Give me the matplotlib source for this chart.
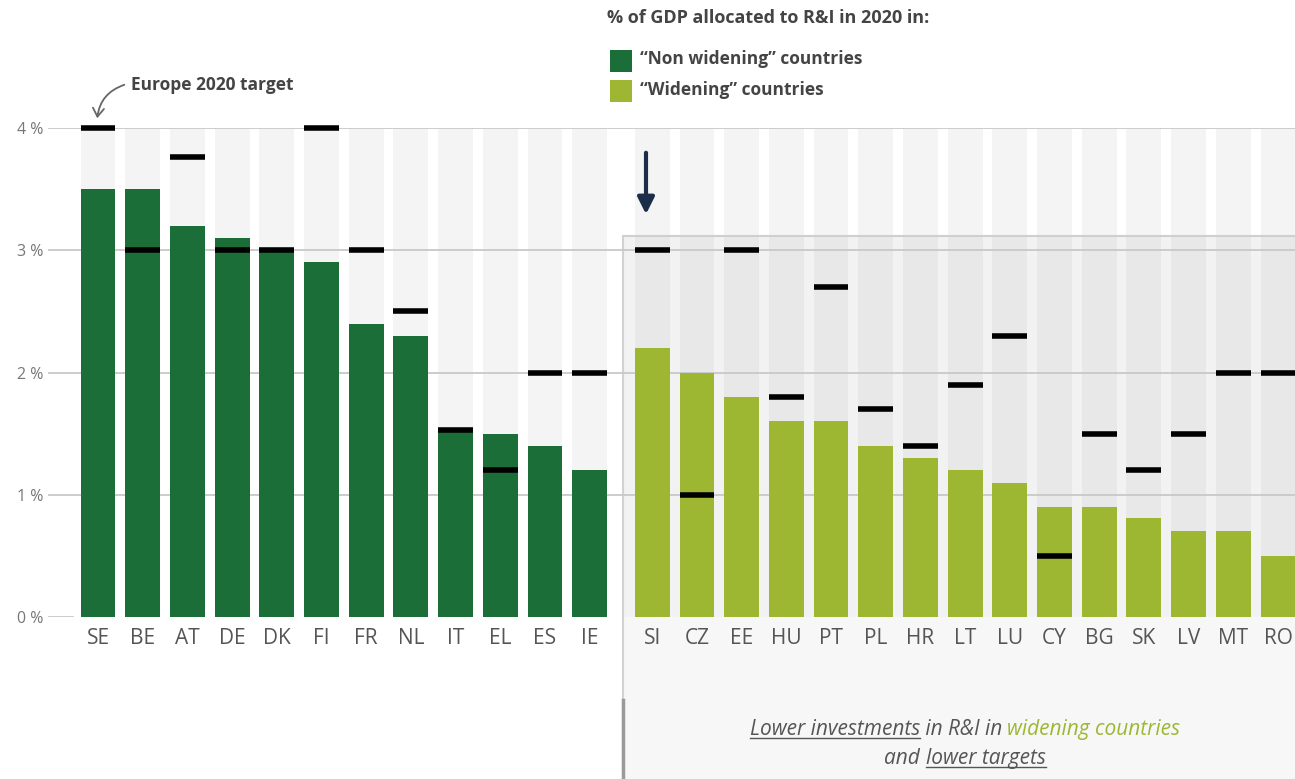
import matplotlib
matplotlib.use("Agg")
import matplotlib.pyplot as plt
from matplotlib.patches import Rectangle, FancyArrowPatch
from matplotlib import font_manager as fm
import numpy as np

# ---------------- data ----------------
nonwid_countries = ["SE", "BE", "AT", "DE", "DK", "FI", "FR", "NL", "IT", "EL", "ES", "IE"]
nonwid_values = [3.5, 3.5, 3.2, 3.1, 3.0, 2.9, 2.4, 2.3, 1.55, 1.5, 1.4, 1.2]
nonwid_targets = [4.0, 3.0, 3.76, 3.0, 3.0, 4.0, 3.0, 2.5, 1.53, 1.2, 2.0, 2.0]

wid_countries = ["SI", "CZ", "EE", "HU", "PT", "PL", "HR", "LT", "LU", "CY", "BG", "SK", "LV", "MT", "RO"]
wid_values = [2.2, 2.0, 1.8, 1.6, 1.6, 1.4, 1.3, 1.2, 1.1, 0.9, 0.9, 0.81, 0.7, 0.7, 0.5]
wid_targets = [3.0, 1.0, 3.0, 1.8, 2.7, 1.7, 1.4, 1.9, 2.3, 0.5, 1.5, 1.2, 1.5, 2.0, 2.0]

yticks = [0, 1, 2, 3, 4]
ytick_labels = ["0 %", "1 %", "2 %", "3 %", "4 %"]

# ---------------- fonts ----------------
avail = {f.name for f in fm.fontManager.ttflist}
def pick(*names):
    for n in names:
        if n in avail:
            return n
    return "DejaVu Sans"
NARROW = pick("Liberation Sans Narrow", "Open Sans", "Lato", "DejaVu Sans")
BOLD = pick("Open Sans", "Lato", "DejaVu Sans")

DARK = "#1b6e37"
LIGHT = "#9db733"
GREY_TXT = "#555555"

W, H = 1295, 779
fig = plt.figure(figsize=(W / 100, H / 100), dpi=100)

ax_left, ax_right = 48, W
ax_bottom_px, ax_top_px = 617, 128
ax = fig.add_axes([ax_left / W, 1 - ax_bottom_px / H,
                   (ax_right - ax_left) / W, (ax_bottom_px - ax_top_px) / H])

n1 = len(nonwid_countries)
x1 = np.arange(n1)
x2 = np.arange(len(wid_countries)) + n1 + 0.4
xall = np.concatenate([x1, x2])
bw = 0.78

ax.set_xlim(-1.12, 26.78)
ax.set_ylim(0, 4)

# background stripes
ax.bar(xall, [4] * len(xall), width=bw, color="#f4f4f4", zorder=0)

# grey box behind widening countries
box_left = x2[0] - 0.65
box_top = 3.12
ax.add_patch(Rectangle((box_left, 0), 40, box_top, transform=ax.transData,
                       facecolor=(0.45, 0.45, 0.5), alpha=0.09, edgecolor="none",
                       clip_on=False, zorder=0.5))
ax.add_patch(Rectangle((box_left, -1.5), 40, 1.5, transform=ax.transData,
                       facecolor="#f7f7f8", edgecolor="none",
                       clip_on=False, zorder=0.5))
ax.plot([box_left, 40], [box_top, box_top], color="#cfcfcf", lw=1.5, clip_on=False, zorder=0.6)
ax.plot([box_left, box_left], [-1.5, box_top], color="#d2d2d2", lw=1.5, clip_on=False, zorder=0.6)
ax.plot([box_left, box_left], [-1.5, -0.68], color="#9a9a9a", lw=2.5, clip_on=False, zorder=0.6)

# gridlines
for yv in yticks[1:]:
    ax.axhline(yv, color="#c8c8c8", lw=1.3, zorder=1)
ax.axhline(0, xmax=0.02, color="#c8c8c8", lw=1.3, zorder=1)

# bars
ax.bar(x1, nonwid_values, width=bw, color=DARK, zorder=2)
ax.bar(x2, wid_values, width=bw, color=LIGHT, zorder=2)

# target markers
ax.hlines(nonwid_targets, x1 - bw / 2, x1 + bw / 2, color="black", lw=4, zorder=3, clip_on=False)
ax.hlines(wid_targets, x2 - bw / 2, x2 + bw / 2, color="black", lw=4, zorder=3, clip_on=False)

# ticks
ax.set_xticks(xall)
ax.set_xticklabels(nonwid_countries + wid_countries, fontsize=15, color=GREY_TXT, family=NARROW)
ax.set_yticks(yticks)
ax.set_yticklabels(ytick_labels, fontsize=11.5, color="#777777", family=NARROW)
ax.tick_params(axis="both", length=0)
ax.tick_params(axis="x", pad=8)
ax.tick_params(axis="y", pad=3)
for s in ax.spines.values():
    s.set_visible(False)

# ---------------- legend (figure coords in px) ----------------
def fx(px):
    return px / W
def fy(py):
    return 1 - py / H

fig.text(fx(607), fy(18), "% of GDP allocated to R&I in 2020 in:", fontsize=13, fontweight="bold",
         color="#444444", family=BOLD, va="center", ha="left")
fig.patches.append(Rectangle((fx(610), fy(72)), 22 / W, 22 / H, transform=fig.transFigure,
                             facecolor=DARK, edgecolor="none"))
fig.patches.append(Rectangle((fx(610), fy(102)), 22 / W, 22 / H, transform=fig.transFigure,
                             facecolor=LIGHT, edgecolor="none"))
fig.text(fx(640), fy(59), "\u201cNon widening\u201d countries", fontsize=12.5, fontweight="bold",
         color="#444444", family=BOLD, va="center", ha="left")
fig.text(fx(640), fy(90), "\u201cWidening\u201d countries", fontsize=12.5, fontweight="bold",
         color="#444444", family=BOLD, va="center", ha="left")

# Europe 2020 target annotation
fig.text(fx(131), fy(85), "Europe 2020 target", fontsize=12.5, fontweight="bold",
         color="#444444", family=BOLD, va="center", ha="left")
fig.patches.append(FancyArrowPatch((fx(127), fy(84)), (fx(97), fy(121)), transform=fig.transFigure,
                                   arrowstyle="->,head_length=6,head_width=4",
                                   connectionstyle="arc3,rad=0.35", color="#666666", lw=1.3))

# navy arrow
fig.patches.append(FancyArrowPatch((fx(646), fy(150)), (fx(646), fy(217)), transform=fig.transFigure,
                                   arrowstyle="-|>,head_length=10,head_width=5", color="#1c2d4a", lw=3))

# ---------------- bottom caption with underlines ----------------
fig.canvas.draw()
renderer = fig.canvas.get_renderer()

def rich_line(parts, cx, cy, size=15):
    texts = []
    for s, col, ul in parts:
        t = fig.text(0, fy(cy), s, fontsize=size, style="italic", color=col, family=NARROW,
                     va="baseline", ha="left")
        texts.append((t, ul, col))
    widths = [t.get_window_extent(renderer).width for t, _, _ in texts]
    total = sum(widths)
    x = cx - total / 2
    for (t, ul, col), w in zip(texts, widths):
        t.set_x(fx(x))
        if ul:
            fig.lines.append(plt.Line2D([fx(x), fx(x + w)], [fy(cy + 3), fy(cy + 3)],
                                        transform=fig.transFigure, color=col, lw=1))
        x += w

rich_line([("Lower investments", GREY_TXT, True), (" in R&I in ", GREY_TXT, False),
           ("widening countries", LIGHT, False)], 965, 735)
rich_line([("and ", GREY_TXT, False), ("lower targets", GREY_TXT, True)], 965, 764)

fig.savefig("out.png", dpi=100)
